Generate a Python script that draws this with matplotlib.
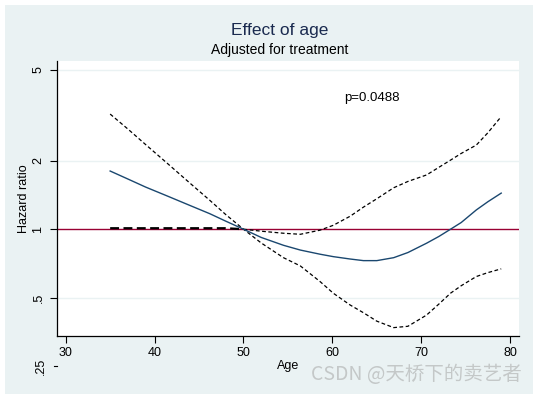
import numpy as np
import matplotlib.pyplot as plt
from matplotlib.patches import Rectangle
import matplotlib.transforms as mtransforms

plt.rcParams['font.family'] = ['Liberation Sans', 'DejaVu Sans']

# Data
age = [35, 37, 39, 41.4, 44, 46.2, 48, 50, 52, 54.5, 56.4, 58.6, 60.1, 62, 63.5, 65,
       66.9, 68.5, 70.6, 72, 73.3, 74.5, 76.2, 77.5, 79]
hr = [1.80, 1.66, 1.53, 1.40, 1.27, 1.17, 1.085, 1.00, 0.92, 0.85, 0.81, 0.777, 0.758,
      0.74, 0.728, 0.728, 0.75, 0.79, 0.868, 0.93, 1.00, 1.07, 1.215, 1.32, 1.44]
# dashed band, curve running high on the left
ci_a = [3.20, 2.75, 2.35, 1.95, 1.59, 1.34, 1.16, 1.00, 0.87, 0.75, 0.69, 0.59, 0.524,
        0.465, 0.43, 0.395, 0.37, 0.375, 0.42, 0.47, 0.524, 0.565, 0.62, 0.645, 0.67]
# dashed band, curve flat on the left
ci_b = [1.01, 1.01, 1.01, 1.01, 1.01, 1.01, 1.01, 1.00, 0.98, 0.96, 0.95, 0.99, 1.04,
        1.14, 1.25, 1.36, 1.52, 1.62, 1.73, 1.87, 2.01, 2.15, 2.34, 2.65, 3.12]

yticks = [0.5, 1, 2, 5]
ytick_labels = ['.5', '1', '2', '5']
xticks = [30, 40, 50, 60, 70, 80]

W, H = 538, 394
fig = plt.figure(figsize=(W / 100, H / 100), dpi=100, facecolor='white')
fig.patches.append(Rectangle((5 / W, 0), 528 / W, 389 / H, transform=fig.transFigure,
                             facecolor='#eaf2f3', edgecolor='none', zorder=-10))

ax = fig.add_axes([57 / W, 58.3 / H, 462 / W, 274.7 / H])
ax.set_facecolor('white')
ax.set_yscale('log')
ax.set_xlim(29.02, 81.0)
ax.set_ylim(0.341, 5.47)

for g in [0.5, 2, 5]:
    ax.axhline(g, color='#eaf2f3', lw=1, zorder=0)
ax.axhline(1, color='#990033', lw=1, zorder=1)

ax.plot(age, hr, color='#1a476f', lw=1, zorder=3)
ax.plot(age, ci_a, color='black', lw=0.9, ls=(0, (3, 2)), zorder=2)
ax.plot(age[:8], ci_b[:8], color='black', lw=1.6, ls=(0, (4, 2)), zorder=2)
ax.plot(age[7:], ci_b[7:], color='black', lw=0.9, ls=(0, (3, 2)), zorder=2)

ax.set_yticks(yticks)
ax.set_yticklabels(ytick_labels, rotation=90, va='center')
ax.yaxis.set_minor_locator(plt.NullLocator())
ax.set_xticks(xticks)
ax.tick_params(axis='both', direction='out', length=5, width=0.8, labelsize=9,
               colors='black')
ax.tick_params(axis='y', pad=4)
ax.tick_params(axis='x', pad=3)

for s in ['top', 'right']:
    ax.spines[s].set_visible(False)
ax.spines['left'].set_linewidth(0.9)
ax.spines['bottom'].set_linewidth(0.9)

# .25 label sits below the plot region in the original
tr = mtransforms.blended_transform_factory(ax.transAxes, ax.transData)
ax.plot([-3.5 / 462, -0.5 / 462], [0.25, 0.25], transform=tr, color='black',
        lw=0.8, clip_on=False)
ax.text(-16 / 462, 0.25, '.25', transform=tr, rotation=90, ha='center', va='center',
        fontsize=9, clip_on=False)

ax.set_xlabel('Age', fontsize=9, labelpad=1)
ax.set_ylabel('Hazard ratio', fontsize=9, labelpad=2)

ax.text(64.45, 3.77, 'p=0.0488', fontsize=9.5, ha='center', va='center')

fig.text(279.5 / W, 1 - 30 / H, 'Effect of age', fontsize=12.5, color='#1a2a4f',
         ha='center', va='center')
fig.text(279.5 / W, 1 - 50 / H, 'Adjusted for treatment', fontsize=10,
         color='black', ha='center', va='center')

fig.text(416.5 / W, 1 - 375 / H, 'CSDN @天桥下的卖艺者', fontsize=14, color='#c4c8c8',
         ha='center', va='center', family=['Noto Sans CJK SC', 'DejaVu Sans'])

fig.savefig('out.png', dpi=100, facecolor=fig.get_facecolor())
